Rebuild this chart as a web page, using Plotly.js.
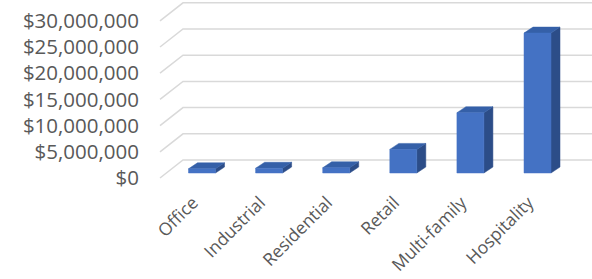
<!DOCTYPE html>
<html><head><meta charset="utf-8">
<script src="https://cdn.plot.ly/plotly-3.0.1.min.js"></script>
<style>html,body{margin:0;padding:0;background:#fff}#chart{width:592px;height:279px}</style>
</head><body><div id="chart"></div>
<script>
// ---- data ----
const categories = ['Office', 'Industrial', 'Residential', 'Retail', 'Multi-family', 'Hospitality'];
const values = [800000, 900000, 1000000, 4500000, 11500000, 26700000];
const yTickValues = [0, 5000000, 10000000, 15000000, 20000000, 25000000, 30000000];

// ---- 3D projection geometry (axis units) ----
const X_PER_PX = 1 / 67.1;          // category units per pixel
const Y_PER_PX = 5000000 / 26.2;    // value units per pixel
const WALL_DX = 23 * X_PER_PX, WALL_DY = 18 * Y_PER_PX;   // back wall offset
const BAR_BASE = 5 * Y_PER_PX;                             // bar depth position
const BAR_W = 27 * X_PER_PX;
const BAR_DX = 9 * X_PER_PX, BAR_DY = 6 * Y_PER_PX;        // bar depth
const X_MIN = -0.924, X_MAX = 5.812;
const FLOOR_FRONT_X = (160 - 202) * X_PER_PX;
const LABEL_SHIFT = -9 * X_PER_PX;

const COL_FRONT = '#4472c4', COL_TOP = '#3560a8', COL_SIDE = '#2c4d88', COL_GRID = '#d9d9d9';

const traces = [];
// back wall gridlines and floor/side diagonals
yTickValues.forEach(t => {
  traces.push({x: [FLOOR_FRONT_X, FLOOR_FRONT_X + WALL_DX, X_MAX], y: [t, t + WALL_DY, t + WALL_DY],
    mode: 'lines', line: {color: COL_GRID, width: 1.5}, hoverinfo: 'skip', showlegend: false, type: 'scatter'});
});
// bars
values.forEach((v, i) => {
  const l = i - BAR_W / 2, r = i + BAR_W / 2, b = BAR_BASE, t = BAR_BASE + v;
  const poly = (xs, ys, c) => traces.push({x: xs, y: ys, mode: 'lines', fill: 'toself', fillcolor: c,
    line: {color: c, width: 0.5}, hoverinfo: 'skip', showlegend: false, type: 'scatter'});
  poly([r, r + BAR_DX, r + BAR_DX, r, r], [b, b + BAR_DY, t + BAR_DY, t, b], COL_SIDE);
  poly([l, r, r + BAR_DX, l + BAR_DX, l], [t, t, t + BAR_DY, t + BAR_DY, t], COL_TOP);
  poly([l, r, r, l, l], [b, b, t, t, b], COL_FRONT);
});

const pxTop = 0, pxBottom = 188, pxZero = 178;
const layout = {
  width: 592, height: 279,
  margin: {l: 140, r: 0, t: 0, b: 91},
  paper_bgcolor: '#fff', plot_bgcolor: '#fff',
  showlegend: false,
  font: {family: 'Open Sans, sans-serif', color: '#595959'},
  xaxis: {range: [X_MIN, X_MAX], tickvals: categories.map((c, i) => i + LABEL_SHIFT), ticktext: categories,
    tickangle: -45, showgrid: false, zeroline: false, showline: false, ticks: '',
    tickfont: {size: 17.5, color: '#595959'}, fixedrange: true},
  yaxis: {range: [(pxZero - pxBottom) * Y_PER_PX, (pxZero - pxTop) * Y_PER_PX], tickvals: yTickValues,
    tickformat: '$,.0f', showgrid: false, zeroline: false, showline: false, ticks: '',
    tickfont: {size: 20.5, color: '#595959'}, fixedrange: true}
};
Plotly.newPlot('chart', traces, layout, {displayModeBar: false, staticPlot: true});
</script></body></html>
